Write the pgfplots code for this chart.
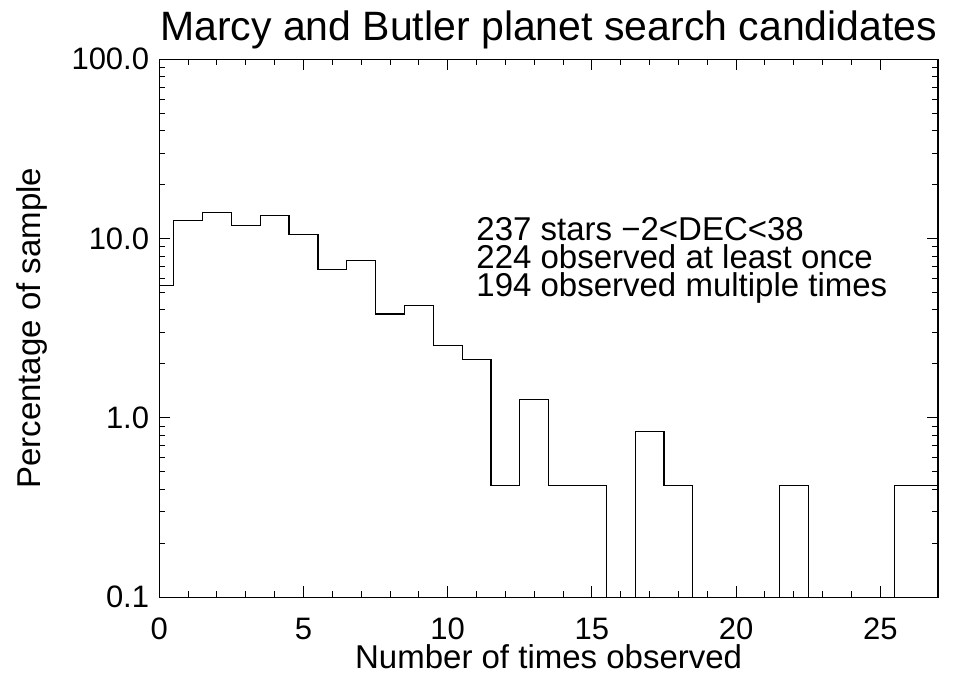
\documentclass[border=0pt]{standalone}
\usepackage{pgfplots}
\pgfplotsset{compat=1.18}
\usepackage{fontspec}
\setmainfont{Liberation Sans}

% percentage of the 237 stars observed n times (0 drawn below the axis)
\pgfplotstableread{
n   pct
0   5.49
1   12.66
2   13.92
3   11.81
4   13.50
5   10.55
6   6.75
7   7.59
8   3.80
9   4.22
10  2.53
11  2.11
12  0.422
13  1.266
14  0.422
15  0.422
16  0.001
17  0.844
18  0.422
19  0.001
20  0.001
21  0.001
22  0.422
23  0.001
24  0.001
25  0.001
26  0.422
27  0.422
}\counts

\begin{document}
\begin{tikzpicture}[
  note/.style={anchor=base west, font=\fontsize{33bp}{35bp}\selectfont,
    inner sep=0pt, text height=0.72em, text depth=0.1em}]
\begin{axis}[
  scale only axis, width=778.7bp, height=538bp,
  ymode=log,
  xmin=0, xmax=27, ymin=0.1, ymax=100,
  xtick={0,5,10,15,20,25}, xticklabels={0,5,10,15,20,25},
  minor x tick num=4,
  ytick={0.1,1,10,100}, yticklabels={0.1,1.0,10.0,100.0},
  minor ytick={0.2,0.3,0.4,0.5,0.6,0.7,0.8,0.9,2,3,4,5,6,7,8,9,20,30,40,50,60,70,80,90},
  tick align=inside,
  major tick length=11bp, minor tick length=6bp,
  every tick/.style={black, line width=1bp},
  axis line style={line width=1.2bp},
  tick label style={font=\fontsize{31bp}{33bp}\selectfont},
  xticklabel style={anchor=base, inner sep=0pt, yshift=-42bp},
  yticklabel style={anchor=east, inner sep=0pt, xshift=-10bp},
  label style={font=\fontsize{33bp}{36bp}\selectfont, inner sep=0pt},
  xlabel={Number of times observed},
  xlabel style={at={(axis description cs:0.5,0)}, anchor=base, yshift=-71bp},
  ylabel={Percentage of sample},
  ylabel style={at={([xshift=-119bp]axis description cs:0,0.5)}, anchor=base},
  title={Marcy and Butler planet search candidates},
  title style={font=\fontsize{41bp}{44bp}\selectfont, inner sep=0pt,
    at={(axis description cs:0.5,1)}, anchor=base, yshift=13bp},
]
\addplot[const plot mark mid, black, line width=1.2bp] table[x=n, y=pct] {\counts};
\node[note] at (rel axis cs:0.407,0.664) {237 stars −2<DEC<38};
\node[note] at (rel axis cs:0.407,0.6106) {224 observed at least once};
\node[note] at (rel axis cs:0.407,0.5584) {194 observed multiple times};
\end{axis}
\pgfresetboundingbox
\path (-159.3bp,-85.7bp) rectangle (800.7bp,597.3bp);
\end{tikzpicture}
\end{document}
